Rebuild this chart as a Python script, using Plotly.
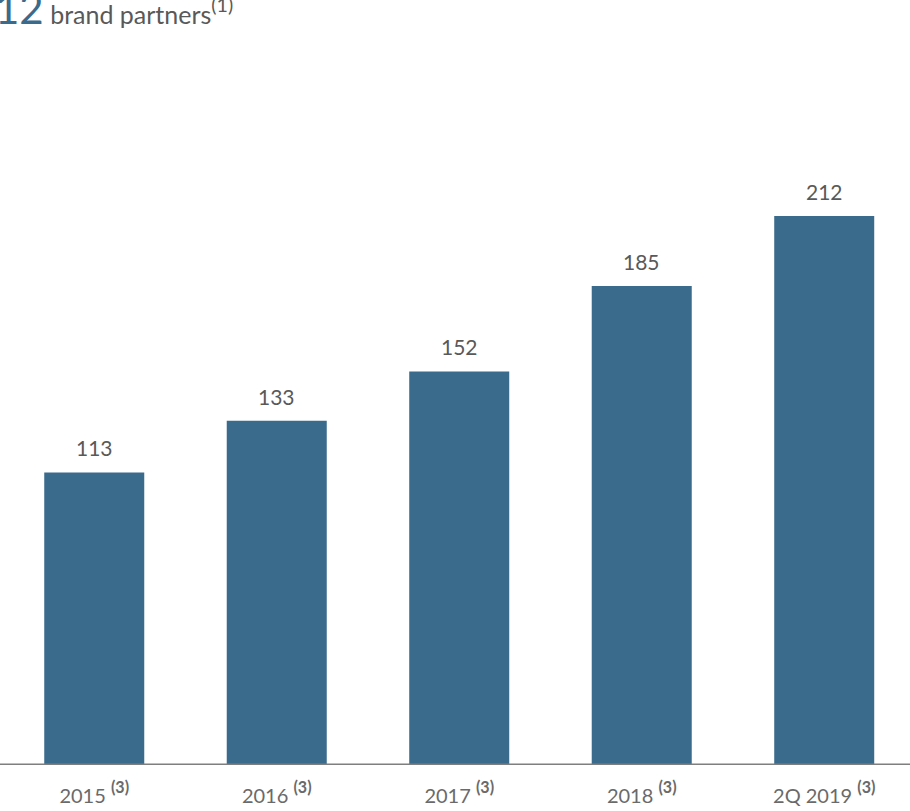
import plotly.graph_objects as go

categories = ["2015", "2016", "2017", "2018", "2Q 2019"]
values = [113, 133, 152, 185, 212]
tick_labels = [c + " <span style='font-size:23px'><sup><b>(3)</b></sup></span>" for c in categories]

bar_color = "#3a6b8c"
text_color = "#595959"

xs = list(range(len(categories)))

fig = go.Figure(go.Bar(
    x=xs,
    y=values,
    marker=dict(color=bar_color, line=dict(width=0)),
    width=0.548,
    hoverinfo="skip",
))

value_annotations = [dict(
    x=x, y=v, xref="x", yref="y", text=str(v), showarrow=False,
    yanchor="bottom", yshift=10,
    font=dict(family="Lato", size=21, color=text_color),
) for x, v in zip(xs, values)]

fig.update_layout(
    width=910, height=811,
    margin=dict(l=3, r=0, t=40, b=46),
    paper_bgcolor="white", plot_bgcolor="white",
    showlegend=False,
    xaxis=dict(
        range=[-0.5, 4.47],
        tickmode="array",
        tickvals=xs,
        ticktext=tick_labels,
        tickfont=dict(family="Lato", size=20, color="#6a6a6a"),
        showgrid=False, zeroline=False, showline=False,
        ticks="", ticklen=0,
        ticklabelstandoff=17,
    ),
    yaxis=dict(range=[0, 280], visible=False),
    shapes=[dict(type="line", xref="paper", yref="y",
                 x0=-0.01, x1=1.01, y0=0, y1=0,
                 line=dict(color="#7f7f7f", width=3))],
    annotations=value_annotations + [dict(
        xref="paper", yref="paper", x=-0.011, y=1.0, xanchor="left", yanchor="bottom",
        yshift=5,
        text="<span style='font-size:42px;color:#3a6b8c'>12</span> brand partners<span style='font-size:28px'><sup>(1)</sup></span>",
        showarrow=False,
        font=dict(family="Lato", size=25, color=text_color),
    )],
)

fig.write_html("out.html")
